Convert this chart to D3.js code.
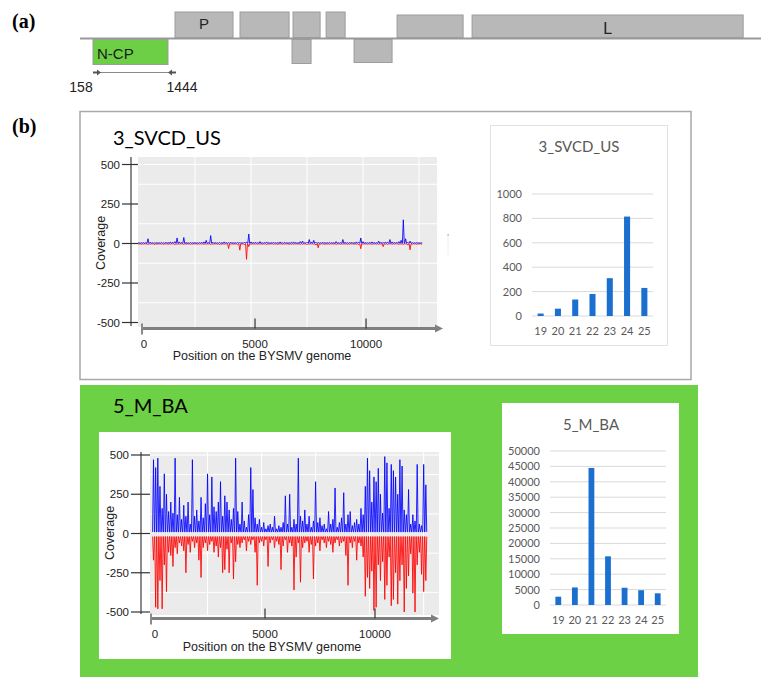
<!DOCTYPE html>
<html><head><meta charset="utf-8">
<script src="https://cdn.jsdelivr.net/npm/d3@7"></script>
<style>body{margin:0;background:#fff}svg{display:block}</style>
</head><body><svg id="c" width="761" height="677"></svg>
<script>
// ---------------- DATA ----------------
const genomeLength = 12700;
const binSize = 100;
// (a) genome map (nt positions)
const upperGeneLabels = ["P", "", "", "", "", "L"];
const upperGeneStart  = [1564, 2679, 3588, 4155, 5372, 6658];
const upperGeneEnd    = [2559, 3520, 4052, 4481, 6504, 11306];
const lowerGeneLabels = ["N-CP", "", ""];
const lowerGeneStart  = [158, 3571, 4634];
const lowerGeneEnd    = [1444, 3897, 5286];
const ncpRangeLabels  = ["158", "1444"];

// (b) coverage, 100-nt bins
const svcdPlus = [5,4,6,5,30,8,5,4,6,5, 7,5,8,6,10,8,12,35,10,6, 38,5,4,6,5,7,5,6,8,10,
  20,5,50,8,6,5,7,5,10,6, 5,8,6,5,7,6,5,8,10,60, 10,6,8,5,12,5,6,10,5,6,
  8,5,6,10,5,8,6,5,8,10, 6,5,12,15,6,8,25,10,20,8, 6,5,8,6,5,7,5,6,12,5,
  6,25,8,5,6,8,5,10,8,35, 12,6,5,8,10,6,5,15,8,6, 10,8,25,10,6,8,12,20,150,30,
  8,15,6,5,6,5,5];
const svcdMinus = [-3,-5,-4,-3,-6,-4,-3,-8,-4,-3, -4,-6,-3,-5,-4,-3,-8,-5,-4,-3, -5,-4,-3,-6,-4,-3,-5,-4,-3,-5,
  -4,-3,-6,-5,-3,-4,-8,-5,-4,-3, -32,-4,-5,-3,-6,-42,-4,-8,-100,-20, -5,-4,-3,-6,-4,-5,-3,-8,-4,-3,
  -5,-4,-6,-3,-5,-4,-3,-6,-4,-5, -3,-4,-6,-5,-3,-8,-4,-3,-5,-10, -27,-4,-3,-6,-4,-5,-3,-4,-6,-3,
  -5,-4,-3,-6,-4,-3,-5,-4,-8,-33, -4,-3,-5,-4,-6,-3,-4,-5,-3,-20, -4,-6,-3,-5,-4,-3,-6,-4,-5,-3,
  -10,-40,-4,-3,-5,-4,-3];
const mbaPlus = [470,420,480,300,160,380,250,140,200,130, 480,120,230,90,180,110,200,60,470,110,
  150,80,230,100,190,380,120,360,170,140, 200,330,110,240,200,150,90,160,480,140,
  60,200,80,40,120,420,280,100,60,90, 40,70,30,50,60,40,110,30,50,40,
  70,240,60,250,40,90,60,480,110,80, 150,60,110,40,80,330,70,100,50,60,
  30,140,60,90,290,40,70,100,260,60, 120,140,50,70,90,60,160,120,300,480,
  400,200,360,330,415,250,130,490,450,160, 440,400,360,250,470,430,150,120,280,60,
  120,80,440,60,50,440,310];
const mbaMinus = [-170,-470,-480,-300,-480,-200,-370,-120,-140,-210, -90,-130,-60,-80,-110,-250,-70,-120,-50,-90,
  -60,-170,-280,-90,-60,-110,-70,-50,-120,-80, -150,-90,-250,-230,-100,-250,-60,-290,-180,-70,
  -90,-60,-40,-110,-50,-70,-40,-120,-330,-60, -50,-80,-40,-210,-60,-40,-90,-50,-70,-230,
  -80,-40,-120,-60,-80,-360,-150,-60,-310,-90, -60,-50,-120,-70,-290,-80,-60,-110,-40,-60,
  -90,-50,-70,-120,-60,-40,-80,-60,-50,-140, -330,-60,-90,-50,-170,-60,-80,-150,-400,-280,
  -350,-240,-490,-470,-200,-300,-180,-420,-330,-150, -460,-420,-250,-450,-300,-200,-500,-350,-270,-130,
  -380,-500,-200,-120,-260,-370,-300];
const coverageTicks = [-500, -250, 0, 250, 500];
const positionTicks = [0, 5000, 10000];

// size distribution of sRNAs
const readLengths = ["19","20","21","22","23","24","25"];
const svcdCounts = [20, 60, 135, 180, 310, 815, 230];
const svcdCountTicks = [0, 200, 400, 600, 800, 1000];
const mbaCounts = [2700, 5700, 44500, 15800, 5600, 4800, 3800];
const mbaCountTicks = [0,5000,10000,15000,20000,25000,30000,35000,40000,45000,50000];

// ---------------- DRAW ----------------
const svg = d3.select("#c");
const serif = "'Liberation Serif','DejaVu Serif',serif";
const sans = "'Liberation Sans',Arial,sans-serif";
const cal = "Lato,'Open Sans',sans-serif";

// ===== (a) =====
svg.append("text").attr("x", 12).attr("y", 28).attr("font-family", serif)
  .attr("font-weight", "bold").attr("font-size", 20).text("(a)");
const xMap = d3.scaleLinear().domain([lowerGeneStart[0], lowerGeneEnd[0]]).range([93, 168]);
svg.append("line").attr("x1", 80).attr("x2", 761).attr("y1", 38.5).attr("y2", 38.5)
  .attr("stroke", "#9a9a9a").attr("stroke-width", 2.2);
const upTop = [12, 12, 12, 12, 15, 15];
upperGeneStart.forEach((s, i) => {
  svg.append("rect").attr("x", xMap(s)).attr("y", upTop[i])
    .attr("width", xMap(upperGeneEnd[i]) - xMap(s)).attr("height", 37.5 - upTop[i])
    .attr("fill", "#b8b8b8").attr("stroke", "#9c9c9c").attr("stroke-width", 1);
  if (upperGeneLabels[i]) svg.append("text").attr("x", (xMap(s) + xMap(upperGeneEnd[i])) / 2)
    .attr("y", i === 0 ? 29 : 34).attr("text-anchor", "middle").attr("font-family", sans)
    .attr("font-size", i === 0 ? 15 : 16).attr("fill", "#222").text(upperGeneLabels[i]);
});
const lowBot = [64.5, 63.5, 62.5];
lowerGeneStart.forEach((s, i) => {
  svg.append("rect").attr("x", xMap(s)).attr("y", 39.5)
    .attr("width", xMap(lowerGeneEnd[i]) - xMap(s)).attr("height", lowBot[i] - 39.5)
    .attr("fill", i === 0 ? "#6ccf45" : "#b8b8b8").attr("stroke", "#9c9c9c").attr("stroke-width", 1);
  if (lowerGeneLabels[i]) svg.append("text").attr("x", xMap(s) + 4).attr("y", 59)
    .attr("font-family", sans).attr("font-size", 15).attr("fill", "#1a1a1a").text(lowerGeneLabels[i]);
});
// N-CP range arrows
const xa = xMap(lowerGeneStart[0]), xb = xMap(lowerGeneEnd[0]);
svg.append("line").attr("x1", xa).attr("x2", xb + 8).attr("y1", 72.5).attr("y2", 72.5)
  .attr("stroke", "#8a8a8a").attr("stroke-width", 1);
svg.append("line").attr("x1", xa).attr("x2", xa + 5).attr("y1", 72.5).attr("y2", 72.5)
  .attr("stroke", "#555").attr("stroke-width", 2);
svg.append("path").attr("d", `M${xa + 4},69.5 L${xa + 8},72.5 L${xa + 4},75.5 Z`).attr("fill", "#555");
svg.append("line").attr("x1", xb + 3).attr("x2", xb + 8).attr("y1", 72.5).attr("y2", 72.5)
  .attr("stroke", "#555").attr("stroke-width", 2);
svg.append("path").attr("d", `M${xb + 4},69.5 L${xb},72.5 L${xb + 4},75.5 Z`).attr("fill", "#555");
svg.append("text").attr("x", xa - 12).attr("y", 92).attr("text-anchor", "middle")
  .attr("font-family", sans).attr("font-size", 14).attr("fill", "#222").text(ncpRangeLabels[0]);
svg.append("text").attr("x", xb + 14).attr("y", 92).attr("text-anchor", "middle")
  .attr("font-family", sans).attr("font-size", 14).attr("fill", "#222").text(ncpRangeLabels[1]);

// ===== (b) =====
svg.append("text").attr("x", 12).attr("y", 133).attr("font-family", serif)
  .attr("font-weight", "bold").attr("font-size", 20).text("(b)");

// panel frames
svg.append("rect").attr("x", 80).attr("y", 111.5).attr("width", 611).attr("height", 268)
  .attr("fill", "#fff").attr("stroke", "#a8a8a8").attr("stroke-width", 1.5);
svg.append("rect").attr("x", 80).attr("y", 385).attr("width", 618).attr("height", 292)
  .attr("fill", "#6cd145");
svg.append("rect").attr("x", 99).attr("y", 432).attr("width", 352).attr("height", 227).attr("fill", "#fff");
svg.append("rect").attr("x", 502).attr("y", 403).attr("width", 177).attr("height", 231).attr("fill", "#fff");
svg.append("rect").attr("x", 490.5).attr("y", 125.5).attr("width", 177).attr("height", 220)
  .attr("fill", "#fff").attr("stroke", "#e2e2e2").attr("stroke-width", 1);
// stray mark
svg.append("line").attr("x1", 448).attr("x2", 448).attr("y1", 235).attr("y2", 255)
  .attr("stroke", "#eee").attr("stroke-width", 1);
svg.append("rect").attr("x", 447.5).attr("y", 234).attr("width", 1.2).attr("height", 1.5).attr("fill", "#b89a80");

function coverage(o) {
  const g = svg.append("g");
  g.append("text").attr("x", o.titleX).attr("y", o.titleY).attr("font-family", cal)
    .attr("font-size", 20).attr("fill", "#000").text(o.title);
  const xs = d3.scaleLinear().domain([0, genomeLength]).range(o.xr);
  const ys = d3.scaleLinear().domain([-500, 500]).range(o.yr);
  const xt = d3.scaleLinear().domain([0, genomeLength]).range(o.xtr);
  g.append("rect").attr("x", o.panel[0]).attr("y", o.panel[1]).attr("width", o.panel[2] - o.panel[0])
    .attr("height", o.panel[3] - o.panel[1]).attr("fill", "#ebebeb");
  [2500, 5000, 7500, 10000, 12500].forEach(v => g.append("line").attr("x1", xs(v)).attr("x2", xs(v))
    .attr("y1", o.panel[1]).attr("y2", o.panel[3]).attr("stroke", "#fff").attr("stroke-width", 1));
  [500, 375, 125, -125, -375].forEach(v => g.append("line").attr("x1", o.panel[0]).attr("x2", o.panel[2])
    .attr("y1", ys(v)).attr("y2", ys(v)).attr("stroke", "#fff").attr("stroke-width", 1));
  // spike-style coverage trace: each bin rises from the baseline to its value and back
  const hw = (xs(binSize) - xs(0)) * 0.42;
  function spikes(vals, base) {
    const pts = [];
    vals.forEach((v, i) => {
      const x = xs(i * binSize);
      pts.push([x - hw, ys(base)], [x, ys(v)], [x + hw, ys(base)]);
    });
    return d3.line()(pts);
  }
  g.append("path").attr("d", spikes(o.minus, o.minusBase)).attr("fill", "none").attr("stroke", "#ff0000")
    .attr("stroke-width", 1).attr("stroke-linejoin", "bevel").attr("opacity", 0.85);
  g.append("path").attr("d", spikes(o.plus, o.plusBase)).attr("fill", "none").attr("stroke", "#0000ff")
    .attr("stroke-width", 1).attr("stroke-linejoin", "bevel").attr("opacity", 0.85);
  // y axis
  g.append("line").attr("x1", o.yAxisX).attr("x2", o.yAxisX).attr("y1", o.panel[1]).attr("y2", o.panel[3] - 1)
    .attr("stroke", "#8a8a8a").attr("stroke-width", 2);
  coverageTicks.forEach(v => {
    g.append("line").attr("x1", o.tick[0]).attr("x2", o.tick[1]).attr("y1", ys(v)).attr("y2", ys(v))
      .attr("stroke", "#333").attr("stroke-width", 1.2);
    g.append("text").attr("x", o.tick[0] - 2).attr("y", ys(v) + 4).attr("text-anchor", "end")
      .attr("font-family", sans).attr("font-size", 11.5).attr("fill", "#222").text(v);
  });
  g.append("text").attr("transform", `translate(${o.yTitle[0]},${o.yTitle[1]}) rotate(-90)`)
    .attr("text-anchor", "middle").attr("font-family", sans).attr("font-size", 12.5).attr("fill", "#222").text("Coverage");
  // x axis arrow
  g.append("line").attr("x1", o.arrow[0]).attr("x2", o.arrow[1] - 6).attr("y1", o.arrowY).attr("y2", o.arrowY)
    .attr("stroke", "#7f7f7f").attr("stroke-width", 3);
  g.append("path").attr("d", `M${o.arrow[1] - 8},${o.arrowY - 4} L${o.arrow[1]},${o.arrowY} L${o.arrow[1] - 8},${o.arrowY + 4} Z`)
    .attr("fill", "#7f7f7f");
  g.append("line").attr("x1", o.arrow[0]).attr("x2", o.arrow[0]).attr("y1", o.arrowY - 5).attr("y2", o.arrowY + 6)
    .attr("stroke", "#8a8a8a").attr("stroke-width", 2);
  positionTicks.forEach(v => {
    if (v > 0) g.append("line").attr("x1", xt(v)).attr("x2", xt(v)).attr("y1", o.arrowY - 10).attr("y2", o.arrowY)
      .attr("stroke", "#333").attr("stroke-width", 1.2);
    g.append("text").attr("x", xt(v)).attr("y", o.arrowY + 19).attr("text-anchor", "middle")
      .attr("font-family", sans).attr("font-size", 11.5).attr("fill", "#222").text(v);
  });
  g.append("text").attr("x", o.xTitle[0]).attr("y", o.xTitle[1]).attr("text-anchor", "middle")
    .attr("font-family", sans).attr("font-size", 12.5).attr("fill", "#222").text("Position on the BYSMV genome");
}

coverage({title: "3_SVCD_US", titleX: 113, titleY: 145, plus: svcdPlus, minus: svcdMinus, plusBase: 2, minusBase: -2,
  panel: [138, 157, 437, 327], xr: [139, 423.5], yr: [322.5, 164.5], xtr: [144, 426],
  yAxisX: 131, tick: [122, 138], yTitle: [105, 243], arrow: [142, 443], arrowY: 328.5, xTitle: [262, 360]});
coverage({title: "5_M_BA", titleX: 113, titleY: 413, plus: mbaPlus, minus: mbaMinus, plusBase: 10, minusBase: -20,
  panel: [150, 452, 439, 615], xr: [153.5, 428], yr: [612, 455], xtr: [155, 434.4],
  yAxisX: 141, tick: [131, 150], yTitle: [114, 533], arrow: [151, 439], arrowY: 618.5, xTitle: [272, 651]});

function hist(o) {
  const g = svg.append("g");
  const xb = d3.scaleBand().domain(readLengths).range(o.xr).paddingInner(0.65).paddingOuter(0.325);
  const ys = d3.scaleLinear().domain([0, o.ticks[o.ticks.length - 1]]).range(o.yr);
  g.append("text").attr("x", o.titleX).attr("y", o.titleY).attr("text-anchor", "middle")
    .attr("font-family", cal).attr("font-size", 15).attr("fill", "#595959").text(o.title);
  o.ticks.forEach(v => {
    g.append("line").attr("x1", o.xr[0]).attr("x2", o.xr[1]).attr("y1", ys(v)).attr("y2", ys(v))
      .attr("stroke", "#d9d9d9").attr("stroke-width", 1);
    g.append("text").attr("x", o.labelX).attr("y", ys(v) + 4).attr("text-anchor", "end")
      .attr("font-family", cal).attr("font-size", 11).attr("fill", "#595959").text(v);
  });
  g.selectAll("rect.b").data(o.values).join("rect").attr("x", (d, i) => xb(readLengths[i]))
    .attr("y", d => ys(d)).attr("width", xb.bandwidth()).attr("height", d => ys(0) - ys(d)).attr("fill", "#1b6fcf");
  readLengths.forEach(c => g.append("text").attr("x", xb(c) + xb.bandwidth() / 2).attr("y", o.catY)
    .attr("text-anchor", "middle").attr("font-family", cal).attr("font-size", 11).attr("fill", "#595959").text(c));
}
hist({title: "3_SVCD_US", titleX: 579, titleY: 152, values: svcdCounts, ticks: svcdCountTicks,
  xr: [532, 653], yr: [316, 194], labelX: 522, catY: 335});
hist({title: "5_M_BA", titleX: 591, titleY: 430, values: mbaCounts, ticks: mbaCountTicks,
  xr: [550, 666], yr: [605, 451], labelX: 540, catY: 624});
</script></body></html>
